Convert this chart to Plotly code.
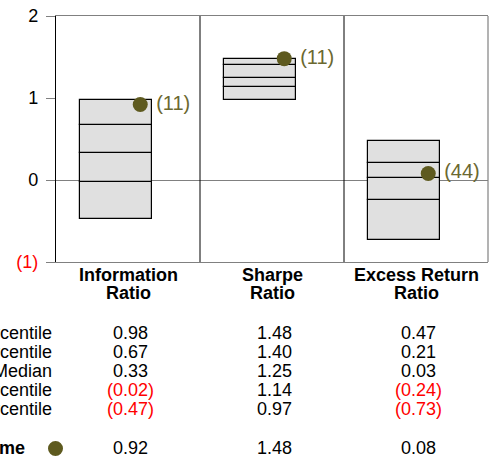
import plotly.graph_objects as go

# data
measures = ["Information", "Sharpe", "Excess Return"]
row_labels = ["5th Percentile", "25th Percentile", "Median", "75th Percentile", "95th Percentile"]
p05 = [0.98, 1.48, 0.47]
p25 = [0.67, 1.40, 0.21]
p50 = [0.33, 1.25, 0.03]
p75 = [-0.02, 1.14, -0.24]
p95 = [-0.47, 0.97, -0.73]
fund_name = "Fund Name"
fund_values = [0.92, 1.48, 0.08]
fund_ranks = [11, 11, 44]

y_ticks = [-1, 0, 1, 2]

OLIVE = "#5e5a1f"
GRAY = "#808080"
FONT = "Liberation Sans, Arial, sans-serif"

# plot area geometry in pixels (used to put the table under the plot)
W, H = 493, 457
ML, MR, MT, MB = 56, 5, 16, 195
PW, PH = W - ML - MR, H - MT - MB


def paper_y(px):
    return (H - MB - px) / PH


def paper_x(px):
    return (px - ML) / PW


def fmt(v):
    return f"({abs(v):.2f})" if v < 0 else f"{v:.2f}"


def tick_text(v):
    return f'<span style="color:red">({abs(v)})</span>' if v < 0 else str(v)


xs = list(range(len(measures)))
fig = go.Figure()

# box segments, bottom to top
segments = [(p95, p75), (p75, p50), (p50, p25), (p25, p05)]
for lo, hi in segments:
    fig.add_trace(go.Bar(
        x=xs, base=lo, y=[h - l for l, h in zip(lo, hi)],
        width=0.5, offset=-0.335,
        marker=dict(color="#e0e0e0", line=dict(color="black", width=1.2)),
        hoverinfo="skip", showlegend=False,
    ))

fig.add_trace(go.Scatter(
    x=[x + 0.085 for x in xs], y=fund_values,
    mode="markers+text",
    marker=dict(color=OLIVE, size=15),
    text=[f" ({r})" for r in fund_ranks],
    textposition="middle right",
    textfont=dict(color="#6b6830", size=20, family=FONT),
    showlegend=False, cliponaxis=False,
))

annotations = []
# column headers
for i, m in enumerate(measures):
    annotations.append(dict(x=i, y=paper_y(275), xref="x", yref="paper", text=f"<b>{m}</b>",
                            showarrow=False, yanchor="middle", font=dict(size=18)))
    annotations.append(dict(x=i, y=paper_y(293), xref="x", yref="paper", text="<b>Ratio</b>",
                            showarrow=False, yanchor="middle", font=dict(size=18)))

# percentile table
row_px = [333, 352, 371, 390, 409]
for label, vals, py in zip(row_labels, [p05, p25, p50, p75, p95], row_px):
    annotations.append(dict(x=paper_x(54), y=paper_y(py), xref="paper", yref="paper", text=label,
                            showarrow=False, xanchor="right", yanchor="middle", font=dict(size=18)))
    for i, v in enumerate(vals):
        annotations.append(dict(x=i + 0.02, y=paper_y(py), xref="x", yref="paper", text=fmt(v),
                                showarrow=False, yanchor="middle",
                                font=dict(size=18, color="red" if v < 0 else "black")))

# fund row
annotations.append(dict(x=paper_x(27), y=paper_y(448), xref="paper", yref="paper",
                        text=f"<b>{fund_name}</b>", showarrow=False, xanchor="right",
                        yanchor="middle", font=dict(size=18)))
for i, v in enumerate(fund_values):
    annotations.append(dict(x=i + 0.02, y=paper_y(448), xref="x", yref="paper", text=fmt(v),
                            showarrow=False, yanchor="middle",
                            font=dict(size=18, color="red" if v < 0 else "black")))

shapes = [
    # fund marker in the table
    dict(type="circle", xref="paper", yref="paper", xsizemode="pixel", ysizemode="pixel",
         xanchor=paper_x(55.5), yanchor=paper_y(448.5), x0=-7.5, x1=7.5, y0=-7.5, y1=7.5,
         fillcolor=OLIVE, line=dict(width=0)),
    # right border
    dict(type="line", xref="paper", yref="paper", x0=1, x1=1, y0=0, y1=1,
         line=dict(color=GRAY, width=1.2)),
]
# panel separators
for i in xs[:-1]:
    shapes.append(dict(type="line", xref="x", yref="paper", x0=i + 0.5, x1=i + 0.5, y0=0, y1=1,
                       line=dict(color="black", width=1)))

fig.update_layout(
    width=W, height=H,
    margin=dict(l=ML, r=MR, t=MT, b=MB),
    plot_bgcolor="white", paper_bgcolor="white",
    font=dict(family=FONT, size=17, color="black"),
    barmode="overlay", bargap=0,
    annotations=annotations, shapes=shapes,
    xaxis=dict(range=[-0.5, 2.5], showticklabels=False, ticks="", showgrid=False,
               zeroline=False, showline=True, mirror=True, linecolor=GRAY, linewidth=1.2),
    yaxis=dict(range=[-1, 2], tickvals=y_ticks, ticktext=[tick_text(v) for v in y_ticks],
               ticks="outside", ticklen=9, tickcolor=GRAY, tickwidth=1.2,
               showgrid=False, zeroline=True, zerolinecolor=GRAY, zerolinewidth=1.2,
               showline=True, linecolor="black", linewidth=1.2, tickfont=dict(size=18),
               ticklabelstandoff=4),
)

# the page's default body margin would push the figure 8px right and down
fig.write_html("out.html", config={"displayModeBar": False},
               post_script="document.body.style.margin = '0';")
